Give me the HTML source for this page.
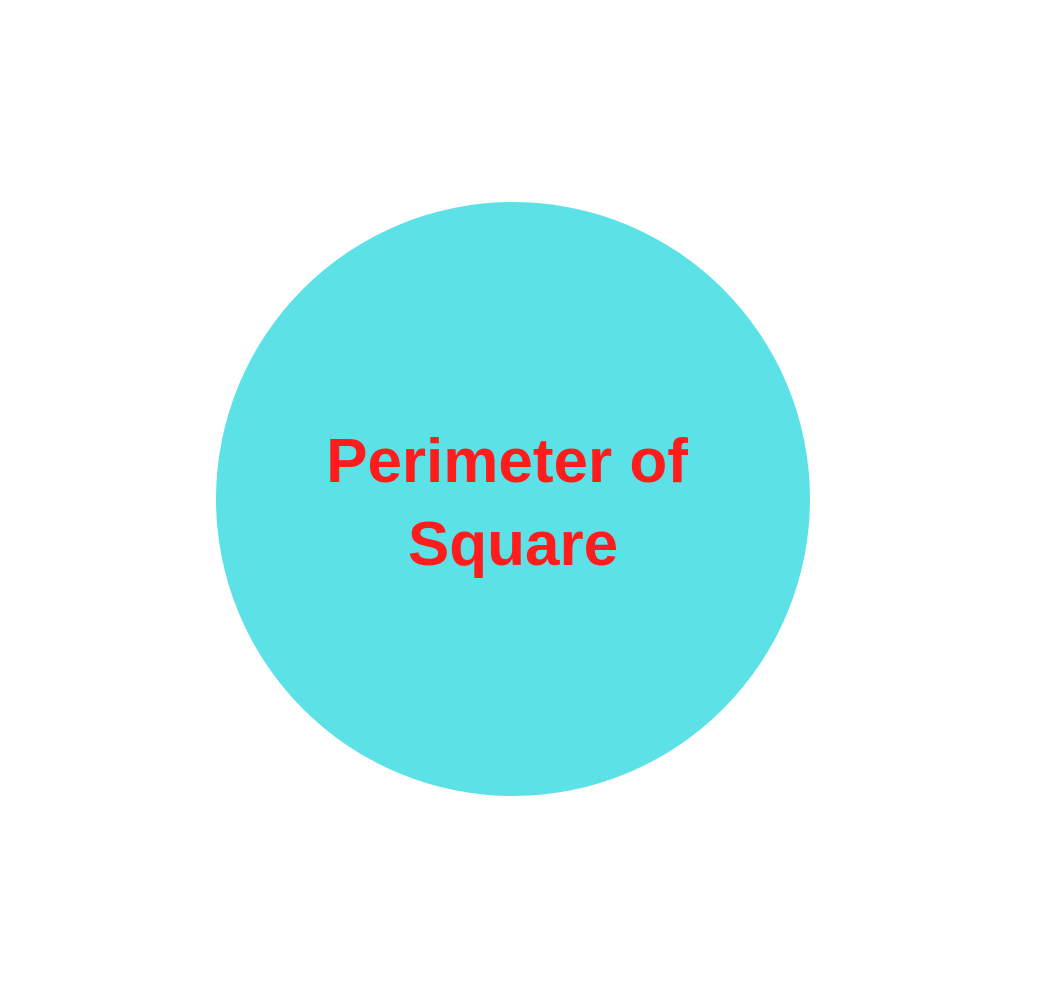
<!DOCTYPE html>
<html>
<head>
<meta charset="utf-8">
<style>
  html, body { margin: 0; padding: 0; background: #ffffff; }
  body { width: 1044px; height: 996px; overflow: hidden; }
  svg { display: block; }
</style>
</head>
<body>
<svg width="1044" height="996" viewBox="0 0 1044 996">
  <circle cx="513" cy="499" r="297" fill="#5CE1E6"/>
  <text x="507" y="482" text-anchor="middle" font-family="'Liberation Sans', sans-serif" font-weight="bold" font-size="62" fill="#FF1C1C">Perimeter of</text>
  <text x="513" y="565" text-anchor="middle" font-family="'Liberation Sans', sans-serif" font-weight="bold" font-size="62" fill="#FF1C1C">Square</text>
</svg>
</body>
</html>
